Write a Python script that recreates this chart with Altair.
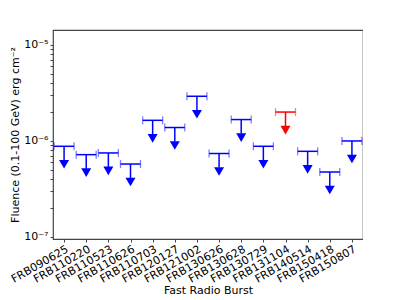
import altair as alt
import pandas as pd

bursts = ["FRB090625", "FRB110220", "FRB110523", "FRB110626", "FRB110703",
          "FRB120127", "FRB121002", "FRB130626", "FRB130628", "FRB130729",
          "FRB131104", "FRB140514", "FRB150418", "FRB150807"]
upper_limits = [8.8e-7, 7.2e-7, 7.5e-7, 5.75e-7, 1.64e-6, 1.38e-6, 2.92e-6,
                7.4e-7, 1.67e-6, 8.8e-7, 2.0e-6, 7.8e-7, 4.75e-7, 1.0e-6]
highlighted = ["FRB131104"]

y_ticks = [k * 10.0 ** e for e in (-7, -6) for k in range(1, 10)] + [1e-5]

df = pd.DataFrame({
    "burst": bursts,
    "limit": upper_limits,
    "group": ["highlight" if b in highlighted else "normal" for b in bursts],
})

FONT = "DejaVu Sans"

x_enc = alt.X("burst:N", sort=bursts,
              scale=alt.Scale(type="point", padding=0.5),
              axis=alt.Axis(title="Fast Radio Burst", labelAngle=330,
                            labelAlign="right", labelBaseline="top",
                            labelFontSize=11, titleFontSize=11,
                            labelFont=FONT, titleFont=FONT,
                            labelColor="black", titleColor="black",
                            titleFontWeight="normal",
                            tickSize=3, labelPadding=1, titlePadding=0,
                            domain=False, tickColor="#444", grid=False))
y_enc = alt.Y("limit:Q",
              scale=alt.Scale(type="log", domain=[9.53e-8, 1.43e-5], nice=False),
              axis=alt.Axis(title="Fluence (0.1-100 GeV) erg cm⁻²",
                            values=y_ticks,
                            labelExpr="datum.value == 1e-5 ? '10⁻⁵' : datum.value == 1e-6 ? '10⁻⁶' : datum.value == 1e-7 ? '10⁻⁷' : ''",
                            labelFontSize=11, titleFontSize=11,
                            labelFont=FONT, titleFont=FONT,
                            labelColor="black", titleColor="black",
                            titleFontWeight="normal",
                            tickSize=3, labelPadding=2, titlePadding=3,
                            domain=False, tickColor="#444", grid=False))
color_enc = alt.Color("group:N",
                      scale=alt.Scale(domain=["normal", "highlight"],
                                      range=["#0000ff", "#ff0000"]),
                      legend=None)

base = alt.Chart(df)

hbar = base.mark_rule(strokeWidth=1.5, xOffset=-10, x2Offset=10).encode(
    x=x_enc, x2="burst:N", y=y_enc, color=color_enc)
cap_left = base.mark_rule(strokeWidth=1.3, opacity=0.5, xOffset=-10,
                          yOffset=-4, y2Offset=4).encode(
    x=x_enc, y=y_enc, y2="limit:Q", color=color_enc)
cap_right = base.mark_rule(strokeWidth=1.3, opacity=0.5, xOffset=10,
                           yOffset=-4, y2Offset=4).encode(
    x=x_enc, y=y_enc, y2="limit:Q", color=color_enc)
stem = base.mark_rule(strokeWidth=1.5, y2Offset=14).encode(
    x=x_enc, y=y_enc, y2="limit:Q", color=color_enc)
head = base.mark_point(shape="triangle-down", filled=True, size=100,
                       opacity=1, yOffset=18).encode(
    x=x_enc, y=y_enc, color=color_enc)

chart = alt.layer(hbar, cap_left, cap_right, stem, head).properties(
    width=310, height=209,
    padding={"left": 1, "top": 22, "right": 0, "bottom": 0},
).configure_view(stroke="#444", strokeWidth=1.2)

chart.save("out.html", embed_options={"renderer": "svg", "actions": False})
